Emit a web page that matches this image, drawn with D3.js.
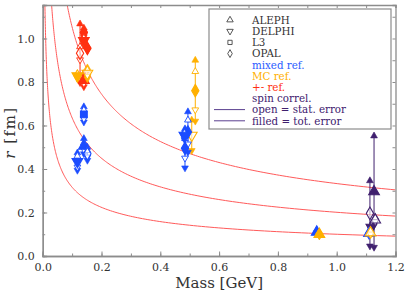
<!DOCTYPE html>
<html><head><meta charset="utf-8">
<script src="https://cdn.jsdelivr.net/npm/d3@7"></script>
<style>
html,body{margin:0;padding:0;background:#fff;}
svg{display:block;}
</style></head>
<body>
<svg id="chart" width="405" height="292"></svg>
<script>
// ---------- data ----------
const xTicks = [0.0, 0.2, 0.4, 0.6, 0.8, 1.0, 1.2];
const yTicks = [0.0, 0.2, 0.4, 0.6, 0.8, 1.0];
const curveConst = [0.100, 0.201, 0.333];          // r = c / sqrt(M)
const experiments = ["ALEPH", "DELPHI", "L3", "OPAL"];
const methods = ["mixed ref.", "MC ref.", "+- ref.", "spin correl."];
const methodColors = ["#1b4cff", "#ffb000", "#ff3010", "#40206e"];
const legendNotes = ["open = stat. error", "filled = tot. error"];

// measurements (plotted mass slightly offset for visibility)
const ptMass   = [0.127, 0.140, 0.140, 0.152, 0.140, 0.118, 0.152,
                  0.140, 0.140, 0.152, 0.118,
                  0.519, 0.507, 0.494, 0.484, 0.482,
                  0.932, 0.941,
                  1.127, 1.113, 1.118, 1.131, 1.110, 1.115];
const ptR      = [0.932, 1.028, 0.990, 0.955, 0.808, 0.828, 0.840,
                  0.651, 0.505, 0.470, 0.434,
                  0.760, 0.555, 0.570, 0.495, 0.555,
                  0.110, 0.100,
                  0.296, 0.196, 0.132, 0.166, 0.104, 0.107];
const ptStat   = [0.030, 0.010, 0.012, 0.005, 0.015, 0.008, 0.015,
                  0.020, 0.015, 0.015, 0.025,
                  0.088, 0.000, 0.055, 0.045, 0.010,
                  0.004, 0.004,
                  0.000, 0.000, 0.008, 0.008, 0.006, 0.006];
const ptTot    = [0.135, 0.020, 0.020, 0.010, 0.030, 0.012, 0.025,
                  0.035, 0.035, 0.030, 0.040,
                  0.140, 0.070, 0.093, 0.090, 0.020,
                  0.008, 0.008,
                  0.256, 0.150, 0.012, 0.012, 0.010, 0.010];
const ptExp    = [3, 3, 1, 3, 0, 1, 1,
                  2, 0, 3, 1,
                  3, 1, 3, 3, 1,
                  0, 0,
                  0, 3, 1, 0, 0, 0];
const ptMethod = [2, 2, 2, 2, 2, 1, 1,
                  0, 0, 0, 0,
                  1, 1, 0, 0, 0,
                  0, 1,
                  3, 3, 3, 3, 0, 1];
const ptFilled = [false, true, true, true, true, true, false,
                  true, true, false, true,
                  true, false, true, true, true,
                  true, true,
                  true, false, true, false, false, false];

// ---------- layout ----------
const svg = d3.select("#chart");
const L = 42.7, R = 395.5, T = 5, B = 256;
const x = d3.scaleLinear().domain([0, 1.2]).range([L, R]);
const y = d3.scaleLinear().domain([0, 1.154]).range([B, T]);
const axisColor = "#8c8c8c";
const tickFont = "DejaVu Serif, serif";

svg.append("defs").append("clipPath").attr("id", "clip")
  .append("rect").attr("x", L).attr("y", T).attr("width", R - L).attr("height", B - T);

// ---------- curves ----------
const curveG = svg.append("g").attr("clip-path", "url(#clip)");
curveConst.forEach(c => {
  const mStart = Math.pow(c / 1.2, 2);
  const ms = d3.range(0, 201).map(i => mStart * Math.pow(1.2 / mStart, i / 200));
  const line = d3.line().x(m => x(m)).y(m => y(c / Math.sqrt(m)));
  curveG.append("path").attr("d", line(ms))
    .attr("fill", "none").attr("stroke", "#ff5a5a").attr("stroke-width", 1);
});

// ---------- axes ----------
const minorX = d3.range(0, 1.2001, 0.1);
const minorY = d3.range(0, 1.1501, 0.1);
function styleAxis(g) {
  g.select(".domain").attr("stroke", axisColor).attr("stroke-width", 1.3);
  g.selectAll(".tick line").attr("stroke", axisColor).attr("stroke-width", 1);
  g.selectAll(".tick text").attr("fill", "#333").attr("font-family", tickFont).attr("font-size", 11);
}
svg.append("g").attr("transform", `translate(0,${B})`)
  .call(d3.axisBottom(x).tickValues(minorX).tickSize(-2.5).tickFormat("")).call(styleAxis);
svg.append("g").attr("transform", `translate(0,${B})`)
  .call(d3.axisBottom(x).tickValues(xTicks).tickSize(-4.5).tickPadding(7).tickFormat(d3.format(".1f"))).call(styleAxis);
svg.append("g").attr("transform", `translate(0,${T})`)
  .call(d3.axisTop(x).tickValues(minorX).tickSize(-3).tickFormat("")).call(styleAxis);
svg.append("g").attr("transform", `translate(${L},0)`)
  .call(d3.axisLeft(y).tickValues(minorY).tickSize(-2.5).tickFormat("")).call(styleAxis);
svg.append("g").attr("transform", `translate(${L},0)`)
  .call(d3.axisLeft(y).tickValues(yTicks).tickSize(-4.5).tickPadding(8).tickFormat(d3.format(".1f"))).call(styleAxis);
svg.append("g").attr("transform", `translate(${R},0)`)
  .call(d3.axisRight(y).tickValues(minorY).tickSize(-3).tickFormat("")).call(styleAxis);

// axis titles
svg.append("text").attr("x", (L + R) / 2).attr("y", 288).attr("text-anchor", "middle")
  .attr("font-family", tickFont).attr("font-size", 15).attr("fill", "#333").text("Mass [GeV]");
const yl = svg.append("text").attr("transform", `translate(15,${(T + B) / 2 + 2}) rotate(-90)`)
  .attr("text-anchor", "middle").attr("font-family", tickFont).attr("font-size", 15)
  .attr("letter-spacing", 1.5).attr("fill", "#333");
yl.append("tspan").attr("font-style", "italic").text("r");
yl.append("tspan").text(" [fm]");

// ---------- markers ----------
const shapeOf = [d3.symbolTriangle, d3.symbolTriangle, d3.symbolSquare, d3.symbolDiamond];
const rotOf = [0, 180, 0, 0];
const sizeOf = [50, 50, 46, 46];
const ptsG = svg.append("g").attr("clip-path", "url(#clip)");
const idx = d3.range(ptMass.length);
const capSym = d3.symbol().type(d3.symbolTriangle).size(20);

idx.forEach(i => {
  const col = methodColors[ptMethod[i]];
  const cx = x(ptMass[i]);
  const g = ptsG.append("g");
  const lo = ptR[i] - ptTot[i], hi = ptR[i] + ptTot[i];
  g.append("line").attr("x1", cx).attr("x2", cx).attr("y1", y(lo)).attr("y2", y(hi))
    .attr("stroke", col).attr("stroke-width", 1);
  // total error caps (filled)
  [[hi, 0], [lo, 180]].forEach(([v, rot]) => {
    g.append("path").attr("d", capSym()).attr("transform", `translate(${cx},${y(v)}) rotate(${rot})`)
      .attr("fill", col).attr("stroke", col).attr("stroke-width", 0.6);
  });
  // stat error caps (open)
  if (ptStat[i] > 0) {
    [[ptR[i] + ptStat[i], 0], [ptR[i] - ptStat[i], 180]].forEach(([v, rot]) => {
      g.append("path").attr("d", capSym()).attr("transform", `translate(${cx},${y(v)}) rotate(${rot})`)
        .attr("fill", "#fff").attr("stroke", col).attr("stroke-width", 0.9);
    });
  }
  const e = ptExp[i];
  g.append("path").attr("d", d3.symbol().type(shapeOf[e]).size(sizeOf[e])())
    .attr("transform", `translate(${cx},${y(ptR[i])}) rotate(${rotOf[e]})`)
    .attr("fill", ptFilled[i] ? col : "#fff").attr("fill-opacity", ptFilled[i] ? 1 : 0.6)
    .attr("stroke", col).attr("stroke-width", 1.1);
});

// ---------- legend ----------
const lg = svg.append("g");
lg.append("rect").attr("x", 209).attr("y", 9).attr("width", 182).attr("height", 120)
  .attr("fill", "#fff").attr("stroke", axisColor).attr("stroke-width", 1.2);
const rowY = i => 20 + i * 11.2;
const legFont = "DejaVu Serif, serif";
experiments.forEach((name, i) => {
  lg.append("path").attr("d", d3.symbol().type(shapeOf[i]).size(18)())
    .attr("transform", `translate(230,${rowY(i)}) rotate(${rotOf[i]})`)
    .attr("fill", "none").attr("stroke", "#444").attr("stroke-width", 0.9);
  lg.append("text").attr("x", 252).attr("y", rowY(i) + 3.8).attr("font-family", legFont)
    .attr("font-size", 10.3).attr("fill", "#333").text(name);
});
methods.forEach((name, i) => {
  const row = 4 + i;
  lg.append("text").attr("x", 252).attr("y", rowY(row) + 3.8).attr("font-family", legFont)
    .attr("font-size", 10.3).attr("fill", i === 1 ? "#ffb000" : (i === 0 ? "#2a5cff" : methodColors[i]))
    .text(name);
});
legendNotes.forEach((name, i) => {
  const row = 8 + i;
  lg.append("line").attr("x1", 214).attr("x2", 245).attr("y1", rowY(row)).attr("y2", rowY(row))
    .attr("stroke", "#5a3f8f").attr("stroke-width", 1);
  lg.append("text").attr("x", 252).attr("y", rowY(row) + 3.8).attr("font-family", legFont)
    .attr("font-size", 10.3).attr("fill", "#40206e").text(name);
});
</script>
</body></html>
